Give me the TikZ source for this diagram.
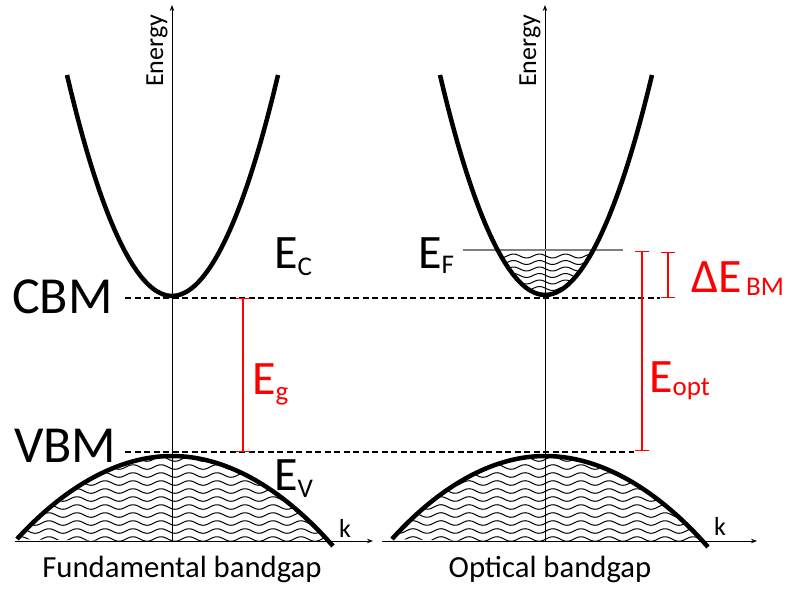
\documentclass[tikz,border=0pt]{standalone}
\usepackage{fontspec}
\setmainfont{Carlito}
\usetikzlibrary{arrows.meta}
\newcommand\sizeMain{\fontsize{48}{50}\selectfont}
\newcommand\sizeSub{\fontsize{27}{29}\selectfont}
\newcommand\sizeBand{\fontsize{52}{54}\selectfont}
\newcommand\sizeCap{\fontsize{30.7}{32}\selectfont}
\newcommand\sizeAxis{\fontsize{26}{28}\selectfont}
\begin{document}
\begin{tikzpicture}[x=1pt,y=-1pt,
  band/.style={line width=4.5pt},
  axisline/.style={line width=0.9pt,-{Stealth[length=6pt,width=4.5pt]}},
  level/.style={line width=1.2pt,dash pattern=on 6pt off 3.5pt},
  gapbar/.style={red,line width=1.4pt,{Bar[width=14pt]}-{Bar[width=14pt]}},
  wave/.style={line width=1pt},
  fermi/.style={line width=1.2pt,draw={rgb,255:red,127;green,127;blue,127}},
  lbl/.style={inner sep=0pt,anchor=base west},
  ]
\useasboundingbox (0,0) rectangle (790,589);

% ---------- coordinates ----------
\coordinate (LaxB) at (172,541);
\coordinate (LaxT) at (172,5);
\coordinate (LkS) at (15,541);
\coordinate (LkE) at (373,541);
\coordinate (RaxB) at (545,541);
\coordinate (RaxT) at (545,5);
\coordinate (RkS) at (382,541);
\coordinate (RkE) at (757,541);

\coordinate (cbmS) at (125,298);
\coordinate (cbmE) at (660,298);
\coordinate (vbmS) at (125,452);
\coordinate (vbmE) at (634,452);

\coordinate (egT) at (243,298);
\coordinate (egB) at (243,452);
\coordinate (bmT) at (668,252);
\coordinate (bmB) at (668,298);
\coordinate (opT) at (642,251);
\coordinate (opB) at (642,451);

\coordinate (efS) at (463,250);
\coordinate (efE) at (623,250);

% ---------- wave fillings ----------
\begin{scope}
  \clip (0,0) rectangle (790,541);
  \clip (17,539) parabola bend (172,456) (333,546) -- cycle;
  \foreach \yy in {459,467,...,546}{
    \draw[wave] plot[domain=12:340,samples=130,variable=\t] (\t,{\yy+2.3*sin(\t*12.857)});
  }
\end{scope}
\begin{scope}
  \clip (0,0) rectangle (790,541);
  \clip (392,539) parabola bend (545,456) (708,547) -- cycle;
  \foreach \yy in {459,467,...,546}{
    \draw[wave] plot[domain=385:715,samples=130,variable=\t] (\t,{\yy+2.3*sin(\t*12.857)});
  }
\end{scope}
\begin{scope}
  \clip (0,251) rectangle (790,589);
  \clip (440,75) parabola bend (545,295) (652,75) -- cycle;
  \foreach \yy in {256,262.5,...,300}{
    \draw[wave] plot[domain=455:635,samples=80,variable=\t] (\t,{\yy+2*sin(\t*13.846)});
  }
\end{scope}

% ---------- axes ----------
\draw[axisline] (LaxB) -- (LaxT);
\draw[axisline] (LkS) -- (LkE);
\draw[axisline] (RaxB) -- (RaxT);
\draw[axisline] (RkS) -- (RkE);

% ---------- levels ----------
\draw[level] (cbmS) -- (cbmE);
\draw[level] (vbmS) -- (vbmE);
\draw[fermi] (efS) -- (efE);

% ---------- bands ----------
\draw[band] (67,75) parabola bend (172,296) (278,75);
\draw[band] (17,539) parabola bend (172,456) (333,546);
\draw[band] (440,75) parabola bend (545,295) (652,75);
\draw[band] (392,539) parabola bend (545,456) (708,547);

% ---------- gap bars ----------
\draw[gapbar] (egT) -- (egB);
\draw[gapbar] (bmT) -- (bmB);
\draw[gapbar] (opT) -- (opB);

% ---------- labels ----------
\node[lbl] (cbm) at (12,313) {\sizeBand CBM};
\node[lbl] (vbm) at (14,462) {\sizeBand VBM};
\node[lbl] (ec) at (274,268) {\sizeMain E\sizeSub\raisebox{-7pt}{C}};
\node[lbl] (ev) at (274,490) {\sizeMain E\sizeSub\raisebox{-7pt}{V}};
\node[lbl] (ef) at (418,268) {\sizeMain E\sizeSub\raisebox{-5pt}{F}};
\node[lbl,text=red] (eg) at (252,394) {\sizeMain E\sizeSub\raisebox{-6pt}{g}};
\node[lbl,text=red] (eopt) at (649,392) {\sizeMain E\sizeSub\raisebox{-3pt}{opt}};
\node[lbl,text=red] (ebm) at (691,292) {\sizeMain ΔE\sizeSub\raisebox{-3pt}{\,BM}};

\node[inner sep=0pt,anchor=base] (fund) at (182,577) {\sizeCap Fundamental bandgap};
\node[inner sep=0pt,anchor=base] (opt) at (550,577) {\sizeCap Optical bandgap};

\node[lbl,rotate=90] (enL) at (163,87) {\sizeAxis Energy};
\node[lbl,rotate=90] (enR) at (536,87) {\sizeAxis Energy};
\node[lbl] (kL) at (339,537) {\sizeAxis k};
\node[lbl] (kR) at (714,535) {\sizeAxis k};
\end{tikzpicture}
\end{document}
